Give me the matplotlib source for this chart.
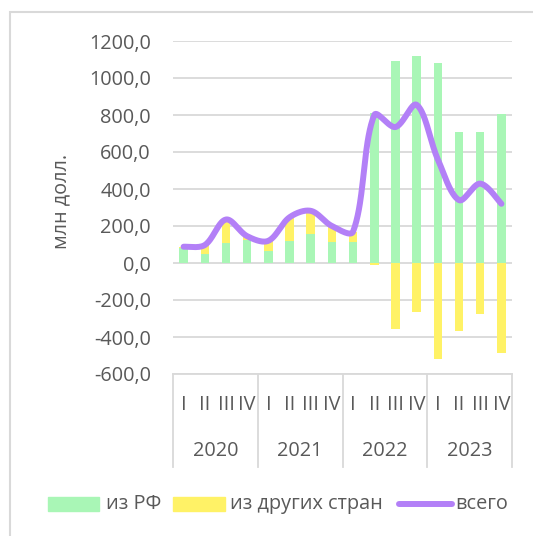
import numpy as np
import matplotlib
matplotlib.use("Agg")
import matplotlib.pyplot as plt
from matplotlib.patches import Rectangle
from matplotlib.lines import Line2D
from matplotlib.transforms import blended_transform_factory

plt.rcParams['font.family'] = ['Open Sans', 'DejaVu Sans']

years = ['2020', '2021', '2022', '2023']
quarters = ['I', 'II', 'III', 'IV']
from_rf = [80, 47, 110, 125, 65, 117, 157, 115, 115, 810, 1090, 1120, 1080, 708, 706, 805]
from_other = [8, 50, 125, 20, 55, 130, 125, 85, 55, -10, -355, -265, -520, -368, -277, -485]
total = [a + b for a, b in zip(from_rf, from_other)]

GREEN = '#a9f6b6'
YELLOW = '#fff266'
PURPLE = '#b380f7'
GRID = '#d9d9d9'
TXT = '#595959'
FS = 14.3

W, H = 533, 536
fig = plt.figure(figsize=(W / 100, H / 100), dpi=100)

def fx(px):
    return px / W

def fy(py):
    return 1 - py / H

ax = fig.add_axes([fx(173), fy(374), fx(512) - fx(173), fy(41) - fy(374)])

n = len(from_rf)
x = np.arange(n)
rf = np.array(from_rf, float)
oth = np.array(from_other, float)
bottom_oth = np.where(oth >= 0, rf, 0)
ax.bar(x, rf, width=0.4, color=GREEN, zorder=2)
ax.bar(x, oth, width=0.4, bottom=bottom_oth, color=YELLOW, zorder=2)

ax.set_xlim(-0.5, n - 0.5)
ax.set_ylim(-600, 1200)

# smoothed total line: Bezier spline in screen space, tangents scaled by segment lengths
pts_px = ax.transData.transform(np.column_stack([x, np.array(total, float)]))
m = len(pts_px)
d = np.linalg.norm(np.diff(pts_px, axis=0), axis=1)
tang = np.zeros_like(pts_px)
for i in range(m):
    a = pts_px[max(i - 1, 0)]
    b = pts_px[min(i + 1, m - 1)]
    tang[i] = b - a
curve = []
tt = np.linspace(0, 1, 40)[:, None]
for i in range(m - 1):
    p0, p3 = pts_px[i], pts_px[i + 1]
    dl = d[i - 1] if i > 0 else d[i]
    dr = d[i + 1] if i + 1 < m - 1 else d[i]
    s0 = d[i] / (3 * (dl + d[i])) if i > 0 else d[i] / (3 * d[i]) * 0.5
    s1 = d[i] / (3 * (d[i] + dr)) if i + 1 < m - 1 else 0.5 / 3
    p1 = p0 + tang[i] * s0
    p2 = p3 - tang[i + 1] * s1
    seg = ((1 - tt) ** 3) * p0 + 3 * ((1 - tt) ** 2) * tt * p1 + 3 * (1 - tt) * tt ** 2 * p2 + tt ** 3 * p3
    curve.append(seg)
curve = np.vstack(curve)
curve_data = ax.transData.inverted().transform(curve)
ax.plot(curve_data[:, 0], curve_data[:, 1], color=PURPLE, lw=4.3,
        solid_capstyle='round', solid_joinstyle='round', zorder=3)

ax.set_yticks(np.arange(-600, 1201, 200))
ax.set_yticklabels([f"{v:.1f}".replace('.', ',') for v in np.arange(-600, 1201, 200)],
                   fontsize=FS, color=TXT)
ax.tick_params(axis='y', length=0, pad=16)
ax.set_xticks([])
ax.grid(axis='y', color=GRID, lw=1.3, zorder=0)
for s in ['top', 'right', 'left']:
    ax.spines[s].set_visible(False)
ax.spines['bottom'].set_color(GRID)
ax.spines['bottom'].set_linewidth(1.3)
ax.set_ylabel('млн долл.', fontsize=FS, color=TXT)
ax.yaxis.set_label_coords(-0.30, 0.517)

tr = blended_transform_factory(ax.transData, ax.transAxes)
for i in range(n):
    ax.text(x[i], -0.093, quarters[i % 4], transform=tr, ha='center', va='center',
            fontsize=FS, color=TXT)
for j, yr in enumerate(years):
    ax.text(4 * j + 1.5, -0.231, yr, transform=tr, ha='center', va='center',
            fontsize=FS, color=TXT)
for b in range(len(years) + 1):
    ax.plot([4 * b - 0.5, 4 * b - 0.5], [0, -0.279], transform=tr, color=GRID,
            lw=1.3, clip_on=False)

# legend
yc = 504
fig.add_artist(Rectangle((fx(48), fy(511)), fx(99) - fx(48), fy(497) - fy(511),
                         transform=fig.transFigure, color=GREEN))
fig.text(fx(106), fy(yc), 'из РФ', ha='left', va='center', fontsize=FS, color=TXT)
fig.add_artist(Rectangle((fx(173), fy(511)), fx(225) - fx(173), fy(497) - fy(511),
                         transform=fig.transFigure, color=YELLOW))
fig.text(fx(230), fy(yc), 'из других стран', ha='left', va='center', fontsize=FS, color=TXT)
fig.add_artist(Line2D([fx(399), fx(452)], [fy(yc), fy(yc)], transform=fig.transFigure,
                      color=PURPLE, lw=4.3, solid_capstyle='round'))
fig.text(fx(455), fy(yc), 'всего', ha='left', va='center', fontsize=FS, color=TXT)

# chart border
fig.add_artist(Rectangle((fx(10), -0.1), 1.2, fy(12) + 0.1, transform=fig.transFigure,
                         fill=False, edgecolor=GRID, lw=1.5))

fig.savefig('out.png', dpi=100, facecolor='white')
